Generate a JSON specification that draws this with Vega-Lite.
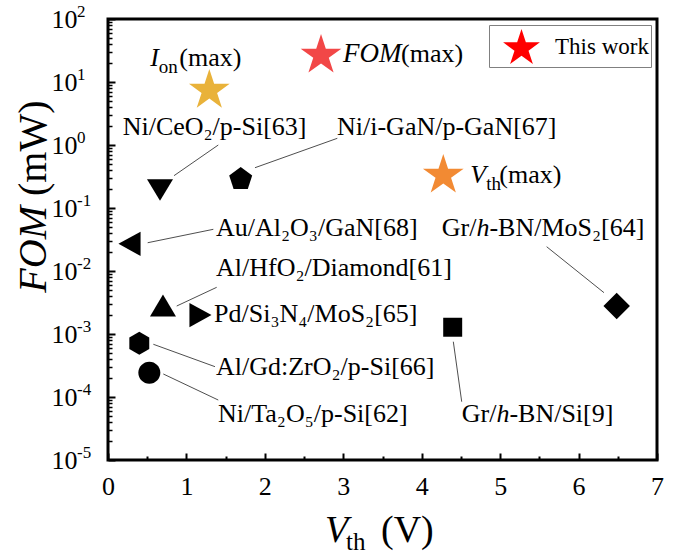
{
  "$schema": "https://vega.github.io/schema/vega-lite/v6.json",
  "width": 549,
  "height": 441,
  "autosize": {"type": "none"},
  "padding": {"left": 108, "top": 19, "right": 26, "bottom": 100},
  "background": "white",
  "config": {
    "font": "Liberation Serif",
    "view": {"stroke": "black", "strokeWidth": 3},
    "text": {"font": "Liberation Serif", "color": "black"},
    "axis": {
      "labelFont": "Liberation Serif",
      "labelColor": "black",
      "labelFontSize": 26,
      "tickColor": "black",
      "domain": false,
      "grid": false,
      "labelFlush": false,
      "labelOverlap": false
    }
  },
  "datasets": {
    "points": [
      {"device": "Ni/CeO2/p-Si", "vth": 0.663, "fom": 0.193, "marker": "triDown"},
      {"device": "Ni/i-GaN/p-GaN", "vth": 1.692, "fom": 0.299, "marker": "pentagon"},
      {"device": "Au/Al2O3/GaN", "vth": 0.274, "fom": 0.027, "marker": "triLeft"},
      {"device": "Al/HfO2/Diamond", "vth": 0.701, "fom": 0.00283, "marker": "triUp"},
      {"device": "Pd/Si3N4/MoS2", "vth": 1.179, "fom": 0.002, "marker": "triRight"},
      {"device": "Al/Gd:ZrO2/p-Si", "vth": 0.399, "fom": 0.000711, "marker": "hexagon"},
      {"device": "Ni/Ta2O5/p-Si", "vth": 0.527, "fom": 0.000243, "marker": "circle"},
      {"device": "Gr/h-BN/Si", "vth": 4.395, "fom": 0.00128, "marker": "square"},
      {"device": "Gr/h-BN/MoS2", "vth": 6.486, "fom": 0.00278, "marker": "diamond"}
    ],
    "stars": [
      {"tag": "Ion", "work": "This work", "vth": 1.292, "fom": 7.94, "main": "I", "sub": "on", "tail": "(max)"},
      {"tag": "FOM", "work": "This work", "vth": 2.716, "fom": 28.6, "main": "FOM", "sub": "", "tail": "(max)"},
      {"tag": "Vth", "work": "This work", "vth": 4.275, "fom": 0.356, "main": "V", "sub": "th", "tail": "(max)"}
    ],
    "leaders": [
      {"x1": 1.406, "y1": 1.0, "x2": 0.842, "y2": 0.326},
      {"x1": 2.924, "y1": 1.277, "x2": 1.874, "y2": 0.436},
      {"x1": 1.343, "y1": 0.0459, "x2": 0.506, "y2": 0.0281},
      {"x1": 1.386, "y1": 0.00551, "x2": 0.876, "y2": 0.00278},
      {"x1": 0.578, "y1": 0.000687, "x2": 1.364, "y2": 0.000303},
      {"x1": 0.705, "y1": 0.000232, "x2": 1.406, "y2": 0.0000895},
      {"x1": 4.403, "y1": 0.000755, "x2": 4.51, "y2": 0.0000842},
      {"x1": 5.593, "y1": 0.0243, "x2": 6.324, "y2": 0.00453}
    ],
    "labels": [
      {"x": 0.187, "y": 1.44, "pre": "Ni/CeO₂/p-Si[63]", "it": "", "rest": ""},
      {"x": 2.92, "y": 1.44, "pre": "Ni/i-GaN/p-GaN[67]", "it": "", "rest": ""},
      {"x": 1.377, "y": 0.036, "pre": "Au/Al₂O₃/GaN[68]", "it": "", "rest": ""},
      {"x": 1.377, "y": 0.00834, "pre": "Al/HfO₂/Diamond[61]", "it": "", "rest": ""},
      {"x": 1.352, "y": 0.00155, "pre": "Pd/Si₃N₄/MoS₂[65]", "it": "", "rest": ""},
      {"x": 1.377, "y": 0.000223, "pre": "Al/Gd:ZrO₂/p-Si[66]", "it": "", "rest": ""},
      {"x": 1.403, "y": 0.0000406, "pre": "Ni/Ta₂O₅/p-Si[62]", "it": "", "rest": ""},
      {"x": 4.51, "y": 0.0000406, "pre": "Gr/", "it": "h", "rest": "-BN/Si[9]"},
      {"x": 4.255, "y": 0.036, "pre": "Gr/", "it": "h", "rest": "-BN/MoS₂[64]"}
    ],
    "decades": [
      {"x": 0, "v": 100, "e": "2"},
      {"x": 0, "v": 10, "e": "1"},
      {"x": 0, "v": 1, "e": "0"},
      {"x": 0, "v": 0.1, "e": "-1"},
      {"x": 0, "v": 0.01, "e": "-2"},
      {"x": 0, "v": 0.001, "e": "-3"},
      {"x": 0, "v": 0.0001, "e": "-4"},
      {"x": 0, "v": 0.00001, "e": "-5"}
    ],
    "titles": [
      {"axis": "x", "x": 2.767, "y": 0.00001, "main": "V", "sub": "th", "tail": "(V)"},
      {"axis": "y", "x": 0, "y": 0.1076, "main": "FOM", "sub": "", "tail": "(mW)"}
    ]
  },
  "layer": [
    {
      "data": {"name": "leaders"},
      "mark": {"type": "rule", "color": "#3a3a3a", "strokeWidth": 0.9},
      "encoding": {
        "x": {
          "field": "x1", "type": "quantitative",
          "scale": {"domain": [0, 7], "nice": false, "zero": false},
          "axis": {"orient": "bottom", "values": [0.5, 1.5, 2.5, 3.5, 4.5, 5.5, 6.5], "labels": false, "tickSize": -4, "tickWidth": 2, "title": null}
        },
        "x2": {"field": "x2"},
        "y": {
          "field": "y1", "type": "quantitative",
          "scale": {"type": "log", "domain": [0.00001, 100], "nice": false},
          "axis": {
            "orient": "left",
            "values": [2e-5, 3e-5, 4e-5, 5e-5, 6e-5, 7e-5, 8e-5, 9e-5,
                       2e-4, 3e-4, 4e-4, 5e-4, 6e-4, 7e-4, 8e-4, 9e-4,
                       0.002, 0.003, 0.004, 0.005, 0.006, 0.007, 0.008, 0.009,
                       0.02, 0.03, 0.04, 0.05, 0.06, 0.07, 0.08, 0.09,
                       0.2, 0.3, 0.4, 0.5, 0.6, 0.7, 0.8, 0.9,
                       2, 3, 4, 5, 6, 7, 8, 9,
                       20, 30, 40, 50, 60, 70, 80, 90],
            "labels": false, "tickSize": -4, "tickWidth": 1.5, "title": null
          }
        },
        "y2": {"field": "y2"}
      }
    },
    {
      "data": {"name": "points"},
      "mark": {"type": "point", "filled": true, "fill": "black", "opacity": 1, "strokeWidth": 0, "size": 676},
      "encoding": {
        "x": {
          "field": "vth", "type": "quantitative",
          "scale": {"domain": [0, 7], "nice": false, "zero": false},
          "axis": {"orient": "bottom", "values": [0, 1, 2, 3, 4, 5, 6, 7], "labelFont": "Liberation Serif", "labelFontSize": 26, "tickSize": -7, "tickWidth": 2, "labelPadding": 20, "title": null}
        },
        "y": {
          "field": "fom", "type": "quantitative",
          "scale": {"type": "log", "domain": [0.00001, 100], "nice": false},
          "axis": {"orient": "left", "values": [0.00001, 0.0001, 0.001, 0.01, 0.1, 1, 10, 100], "labelExpr": "'10'", "labelFont": "Liberation Serif", "labelFontSize": 26, "tickSize": -7, "tickWidth": 2, "labelPadding": 38, "labelAlign": "right", "labelBaseline": "middle", "title": null}
        },
        "shape": {
          "field": "marker", "type": "nominal",
          "scale": {
            "domain": ["circle", "square", "diamond", "triUp", "triDown", "triLeft", "triRight", "pentagon", "hexagon"],
            "range": [
              "M0.846,0A0.846,0.846,0,1,1,-0.846,0A0.846,0.846,0,1,1,0.846,0Z",
              "M-0.73,-0.73H0.73V0.73H-0.73Z",
              "M0,-1.02L1.02,0L0,1.02L-1.02,0Z",
              "M0,-0.85L1,0.85L-1,0.85Z",
              "M-1,-0.83L1,-0.83L0,0.83Z",
              "M-0.85,0L0.85,-0.93L0.85,0.93Z",
              "M0.85,0L-0.85,-0.93L-0.85,0.93Z",
              "M0,-0.841L0.884,-0.198L0.547,0.841L-0.547,0.841L-0.884,-0.198Z",
              "M0,-0.885L0.766,-0.442L0.766,0.442L0,0.885L-0.766,0.442L-0.766,-0.442Z"
            ]
          },
          "legend": null
        }
      }
    },
    {
      "data": {"name": "stars"},
      "mark": {"type": "point", "filled": true, "opacity": 1, "strokeWidth": 0, "size": 1832},
      "encoding": {
        "x": {"field": "vth", "type": "quantitative", "scale": {"domain": [0, 7], "nice": false, "zero": false}, "axis": null},
        "y": {"field": "fom", "type": "quantitative", "scale": {"type": "log", "domain": [0.00001, 100], "nice": false}, "axis": null},
        "fill": {
          "field": "tag", "type": "nominal",
          "scale": {"domain": ["Ion", "FOM", "Vth"], "range": ["#E9B23A", "#F24747", "#F28A33"]},
          "legend": null
        },
        "shape": {
          "field": "work", "type": "nominal",
          "scale": {"domain": ["This work"], "range": ["M0,-0.9045L0.2245,-0.2135L0.951,-0.2135L0.363,0.2135L0.588,0.9045L0,0.4775L-0.588,0.9045L-0.363,0.2135L-0.951,-0.2135L-0.2245,-0.2135Z"]},
          "legend": {
            "title": null,
            "orient": "top-right",
            "offset": 6,
            "padding": 2,
            "strokeColor": "#808080",
            "fillColor": "white",
            "labelFont": "Liberation Serif",
            "labelFontSize": 23,
            "labelColor": "black",
            "labelOffset": 14,
            "symbolOffset": 11,
            "symbolSize": 1500,
            "symbolFillColor": "#ff0000",
            "symbolStrokeWidth": 0
          }
        }
      }
    },
    {
      "data": {"name": "labels"},
      "mark": {"type": "text", "align": "left", "baseline": "alphabetic", "fontSize": 26},
      "encoding": {
        "x": {"field": "x", "type": "quantitative", "scale": {"domain": [0, 7], "nice": false, "zero": false}, "axis": null},
        "y": {"field": "y", "type": "quantitative", "scale": {"type": "log", "domain": [0.00001, 100], "nice": false}, "axis": null},
        "text": {"field": "pre"}
      }
    },
    {
      "data": {"name": "labels"},
      "mark": {"type": "text", "align": "left", "baseline": "alphabetic", "fontSize": 26, "fontStyle": "italic", "dx": 34.7},
      "encoding": {
        "x": {"field": "x", "type": "quantitative", "scale": {"domain": [0, 7], "nice": false, "zero": false}, "axis": null},
        "y": {"field": "y", "type": "quantitative", "scale": {"type": "log", "domain": [0.00001, 100], "nice": false}, "axis": null},
        "text": {"field": "it"}
      }
    },
    {
      "data": {"name": "labels"},
      "mark": {"type": "text", "align": "left", "baseline": "alphabetic", "fontSize": 26, "dx": 47.7},
      "encoding": {
        "x": {"field": "x", "type": "quantitative", "scale": {"domain": [0, 7], "nice": false, "zero": false}, "axis": null},
        "y": {"field": "y", "type": "quantitative", "scale": {"type": "log", "domain": [0.00001, 100], "nice": false}, "axis": null},
        "text": {"field": "rest"}
      }
    },
    {
      "data": {"name": "stars"},
      "transform": [{"filter": "datum.tag === 'Ion'"}],
      "layer": [
        {"mark": {"type": "text", "align": "left", "baseline": "alphabetic", "fontSize": 26, "fontStyle": "italic", "dx": -59, "dy": -22}, "encoding": {"text": {"field": "main"}}},
        {"mark": {"type": "text", "align": "left", "baseline": "alphabetic", "fontSize": 19, "dx": -50.5, "dy": -15}, "encoding": {"text": {"field": "sub"}}},
        {"mark": {"type": "text", "align": "left", "baseline": "alphabetic", "fontSize": 26, "dx": -30, "dy": -22}, "encoding": {"text": {"field": "tail"}}}
      ],
      "encoding": {
        "x": {"field": "vth", "type": "quantitative", "scale": {"domain": [0, 7], "nice": false, "zero": false}, "axis": null},
        "y": {"field": "fom", "type": "quantitative", "scale": {"type": "log", "domain": [0.00001, 100], "nice": false}, "axis": null}
      }
    },
    {
      "data": {"name": "stars"},
      "transform": [{"filter": "datum.tag === 'FOM'"}],
      "layer": [
        {"mark": {"type": "text", "align": "left", "baseline": "alphabetic", "fontSize": 27, "fontStyle": "italic", "dx": 22, "dy": 9}, "encoding": {"text": {"field": "main"}}},
        {"mark": {"type": "text", "align": "left", "baseline": "alphabetic", "fontSize": 26, "dx": 80, "dy": 9}, "encoding": {"text": {"field": "tail"}}}
      ],
      "encoding": {
        "x": {"field": "vth", "type": "quantitative", "scale": {"domain": [0, 7], "nice": false, "zero": false}, "axis": null},
        "y": {"field": "fom", "type": "quantitative", "scale": {"type": "log", "domain": [0.00001, 100], "nice": false}, "axis": null}
      }
    },
    {
      "data": {"name": "stars"},
      "transform": [{"filter": "datum.tag === 'Vth'"}],
      "layer": [
        {"mark": {"type": "text", "align": "left", "baseline": "alphabetic", "fontSize": 26, "fontStyle": "italic", "dx": 27, "dy": 10}, "encoding": {"text": {"field": "main"}}},
        {"mark": {"type": "text", "align": "left", "baseline": "alphabetic", "fontSize": 19, "dx": 43, "dy": 17}, "encoding": {"text": {"field": "sub"}}},
        {"mark": {"type": "text", "align": "left", "baseline": "alphabetic", "fontSize": 26, "dx": 56, "dy": 10}, "encoding": {"text": {"field": "tail"}}}
      ],
      "encoding": {
        "x": {"field": "vth", "type": "quantitative", "scale": {"domain": [0, 7], "nice": false, "zero": false}, "axis": null},
        "y": {"field": "fom", "type": "quantitative", "scale": {"type": "log", "domain": [0.00001, 100], "nice": false}, "axis": null}
      }
    },
    {
      "data": {"name": "decades"},
      "mark": {"type": "text", "align": "left", "baseline": "alphabetic", "fontSize": 17, "dx": -31, "dy": -2},
      "encoding": {
        "x": {"field": "x", "type": "quantitative", "scale": {"domain": [0, 7], "nice": false, "zero": false}, "axis": null},
        "y": {"field": "v", "type": "quantitative", "scale": {"type": "log", "domain": [0.00001, 100], "nice": false}, "axis": null},
        "text": {"field": "e"}
      }
    },
    {
      "data": {"name": "titles"},
      "transform": [{"filter": "datum.axis === 'x'"}],
      "layer": [
        {"mark": {"type": "text", "align": "left", "baseline": "alphabetic", "fontSize": 38, "fontStyle": "italic", "dy": 82}, "encoding": {"text": {"field": "main"}}},
        {"mark": {"type": "text", "align": "left", "baseline": "alphabetic", "fontSize": 25, "dx": 21, "dy": 90}, "encoding": {"text": {"field": "sub"}}},
        {"mark": {"type": "text", "align": "left", "baseline": "alphabetic", "fontSize": 38, "dx": 56, "dy": 82}, "encoding": {"text": {"field": "tail"}}}
      ],
      "encoding": {
        "x": {"field": "x", "type": "quantitative", "scale": {"domain": [0, 7], "nice": false, "zero": false}, "axis": null},
        "y": {"field": "y", "type": "quantitative", "scale": {"type": "log", "domain": [0.00001, 100], "nice": false}, "axis": null}
      }
    },
    {
      "data": {"name": "titles"},
      "transform": [{"filter": "datum.axis === 'y'"}],
      "layer": [
        {"mark": {"type": "text", "align": "right", "baseline": "middle", "fontSize": 40, "fontStyle": "italic", "angle": 270, "dy": -74}, "encoding": {"text": {"field": "main"}}},
        {"mark": {"type": "text", "align": "left", "baseline": "middle", "fontSize": 40, "angle": 270, "dx": 10, "dy": -74}, "encoding": {"text": {"field": "tail"}}}
      ],
      "encoding": {
        "x": {"field": "x", "type": "quantitative", "scale": {"domain": [0, 7], "nice": false, "zero": false}, "axis": null},
        "y": {"field": "y", "type": "quantitative", "scale": {"type": "log", "domain": [0.00001, 100], "nice": false}, "axis": null}
      }
    }
  ],
  "resolve": {
    "axis": {"x": "independent", "y": "independent"},
    "scale": {"shape": "independent"}
  }
}
